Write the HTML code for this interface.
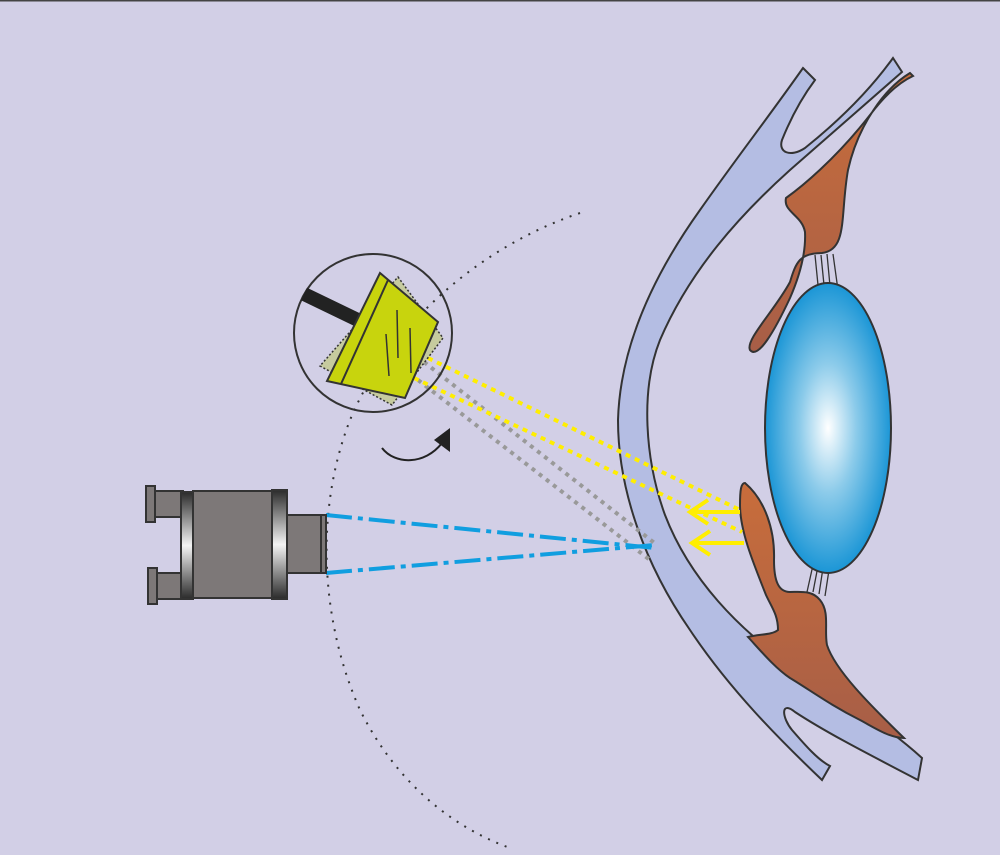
<!DOCTYPE html>
<html><head><meta charset="utf-8"><style>
html,body{margin:0;padding:0;background:#d2cfe6;}
svg{display:block;}
</style></head><body>
<svg width="1000" height="855" viewBox="0 0 1000 855" xmlns="http://www.w3.org/2000/svg">
<defs>
<radialGradient id="lens" cx="0.5" cy="0.5" r="0.5">
<stop offset="0" stop-color="#ffffff"/>
<stop offset="0.45" stop-color="#8ccbea"/>
<stop offset="1" stop-color="#1b96d6"/>
</radialGradient>
<linearGradient id="brown" x1="0" y1="0" x2="0" y2="1">
<stop offset="0" stop-color="#c86d3b"/>
<stop offset="1" stop-color="#a75e47"/>
</linearGradient>
<linearGradient id="ring" x1="0" y1="0" x2="0" y2="1">
<stop offset="0" stop-color="#2a2a2a"/>
<stop offset="0.5" stop-color="#f4f4f4"/>
<stop offset="1" stop-color="#2a2a2a"/>
</linearGradient>
</defs>
<rect width="1000" height="855" fill="#d2cfe6"/>
<line x1="0" y1="0.5" x2="1000" y2="0.5" stroke="#444" stroke-width="2"/>

<!-- dotted arc -->
<path d="M580,213 C470,250 385,335 350,420 C315,510 320,620 360,710 C400,790 460,830 510,848" fill="none" stroke="#333" stroke-width="2" stroke-dasharray="2 7"/>

<!-- sclera/cornea band -->
<path d="M803,68 L815,80 C800,100 790,120 782,140 C778,152 790,158 805,148 C840,120 870,90 893,58 L902,72
C870,100 830,135 790,170 C740,215 690,270 660,340 C640,390 645,460 665,515 C690,580 740,630 790,665 C835,695 880,720 922,758 L918,780
C880,760 830,735 795,712 C780,700 782,718 792,730 C805,745 818,760 830,766 L822,780
C780,740 730,690 690,630 C645,565 618,490 618,420 C620,350 650,280 700,210 C735,160 770,115 803,68 Z"
fill="#b4bde3" stroke="#333" stroke-width="2"/>

<!-- upper brown -->
<path d="M910,73 C885,88 858,125 848,170 C840,215 848,250 822,253 C800,253 796,262 790,282 C775,310 745,340 750,350 C758,360 775,330 790,298 C800,275 806,252 805,232 C802,215 783,212 786,198 C800,188 835,160 870,115 C885,95 900,82 913,76 Z" fill="url(#brown)" stroke="#333" stroke-width="2"/>

<!-- lower brown -->
<path d="M745,483 C765,500 775,530 774,560 C774,580 778,592 790,592 C800,592 812,590 820,600 C830,612 824,630 827,645 C835,670 870,705 904,738 C890,738 875,728 860,720 C830,705 810,690 790,678 C775,668 760,650 748,637 C760,634 772,635 778,630 C778,615 772,608 766,595 C752,560 740,530 740,505 C740,490 741,483 745,483 Z" fill="url(#brown)" stroke="#333" stroke-width="2"/>

<!-- zonules -->
<g stroke="#333" stroke-width="1.3">
<line x1="815" y1="255" x2="818" y2="285"/><line x1="821" y1="255" x2="824" y2="285"/><line x1="827" y1="254" x2="830" y2="286"/><line x1="833" y1="254" x2="838" y2="290"/>
<line x1="807" y1="592" x2="813" y2="565"/><line x1="813" y1="592" x2="818" y2="566"/><line x1="819" y1="594" x2="823" y2="568"/><line x1="825" y1="596" x2="829" y2="570"/>
</g>

<!-- lens -->
<ellipse cx="828" cy="428" rx="63" ry="145" fill="url(#lens)" stroke="#333" stroke-width="2"/>

<!-- grey dotted -->
<g stroke="#999" stroke-width="4" stroke-dasharray="4 5" fill="none">
<line x1="424" y1="362" x2="657" y2="545"/>
<line x1="418" y1="380" x2="650" y2="560"/>
</g>
<!-- yellow dotted -->
<g stroke="#ffee00" stroke-width="4" stroke-dasharray="5 5" fill="none">
<line x1="428" y1="358" x2="740" y2="510"/>
<line x1="414" y1="378" x2="742" y2="532"/>
</g>
<!-- yellow arrows -->
<g stroke="#ffee00" stroke-width="4" fill="none">
<line x1="690" y1="512" x2="740" y2="512"/>
<polyline points="708,500 690,512 708,524"/>
<line x1="692" y1="543" x2="744" y2="543"/>
<polyline points="710,531 692,543 710,555"/>
</g>

<!-- blue dash-dot -->
<g stroke="#109ee0" stroke-width="4" stroke-dasharray="26 6 5 6" fill="none">
<line x1="326" y1="515" x2="655" y2="548"/>
<line x1="326" y1="573" x2="655" y2="545"/>
</g>

<!-- camera -->
<g stroke="#333" stroke-width="2">
<rect x="155" y="491" width="28" height="26" fill="#7d7878"/>
<rect x="146" y="486" width="9" height="36" fill="#7d7878"/>
<rect x="157" y="573" width="26" height="26" fill="#7d7878"/>
<rect x="148" y="568" width="9" height="36" fill="#7d7878"/>
<rect x="193" y="491" width="80" height="107" fill="#7d7878"/>
<rect x="181" y="492" width="12" height="107" fill="url(#ring)"/>
<rect x="272" y="490" width="15" height="109" fill="url(#ring)"/>
<rect x="287" y="515" width="34" height="58" fill="#7d7878"/>
<rect x="321" y="515" width="5" height="58" fill="#7d7878"/>
</g>

<!-- mirror circle -->
<circle cx="373" cy="333" r="79" fill="none" stroke="#333" stroke-width="2"/>
<line x1="304" y1="294" x2="362" y2="322" stroke="#222" stroke-width="14"/>
<polygon points="398,277 443,338 392,405 320,366" fill="#c6cb9e" stroke="#333" stroke-width="1.5" stroke-dasharray="2 2"/>
<polygon points="380,273 438,322 405,398 327,381" fill="#c8d40d" stroke="#333" stroke-width="2"/>
<line x1="388" y1="280" x2="341" y2="384" stroke="#333" stroke-width="2"/>
<g stroke="#333" stroke-width="1.5">
<line x1="397" y1="310" x2="398" y2="358"/>
<line x1="410" y1="328" x2="411" y2="373"/>
<line x1="386" y1="334" x2="389" y2="376"/>
</g>

<!-- rotation arrow -->
<path d="M382,448 C395,465 425,465 442,443" fill="none" stroke="#222" stroke-width="2"/>
<polygon points="434,440 450,428 450,452" fill="#222"/>
</svg>
</body></html>
